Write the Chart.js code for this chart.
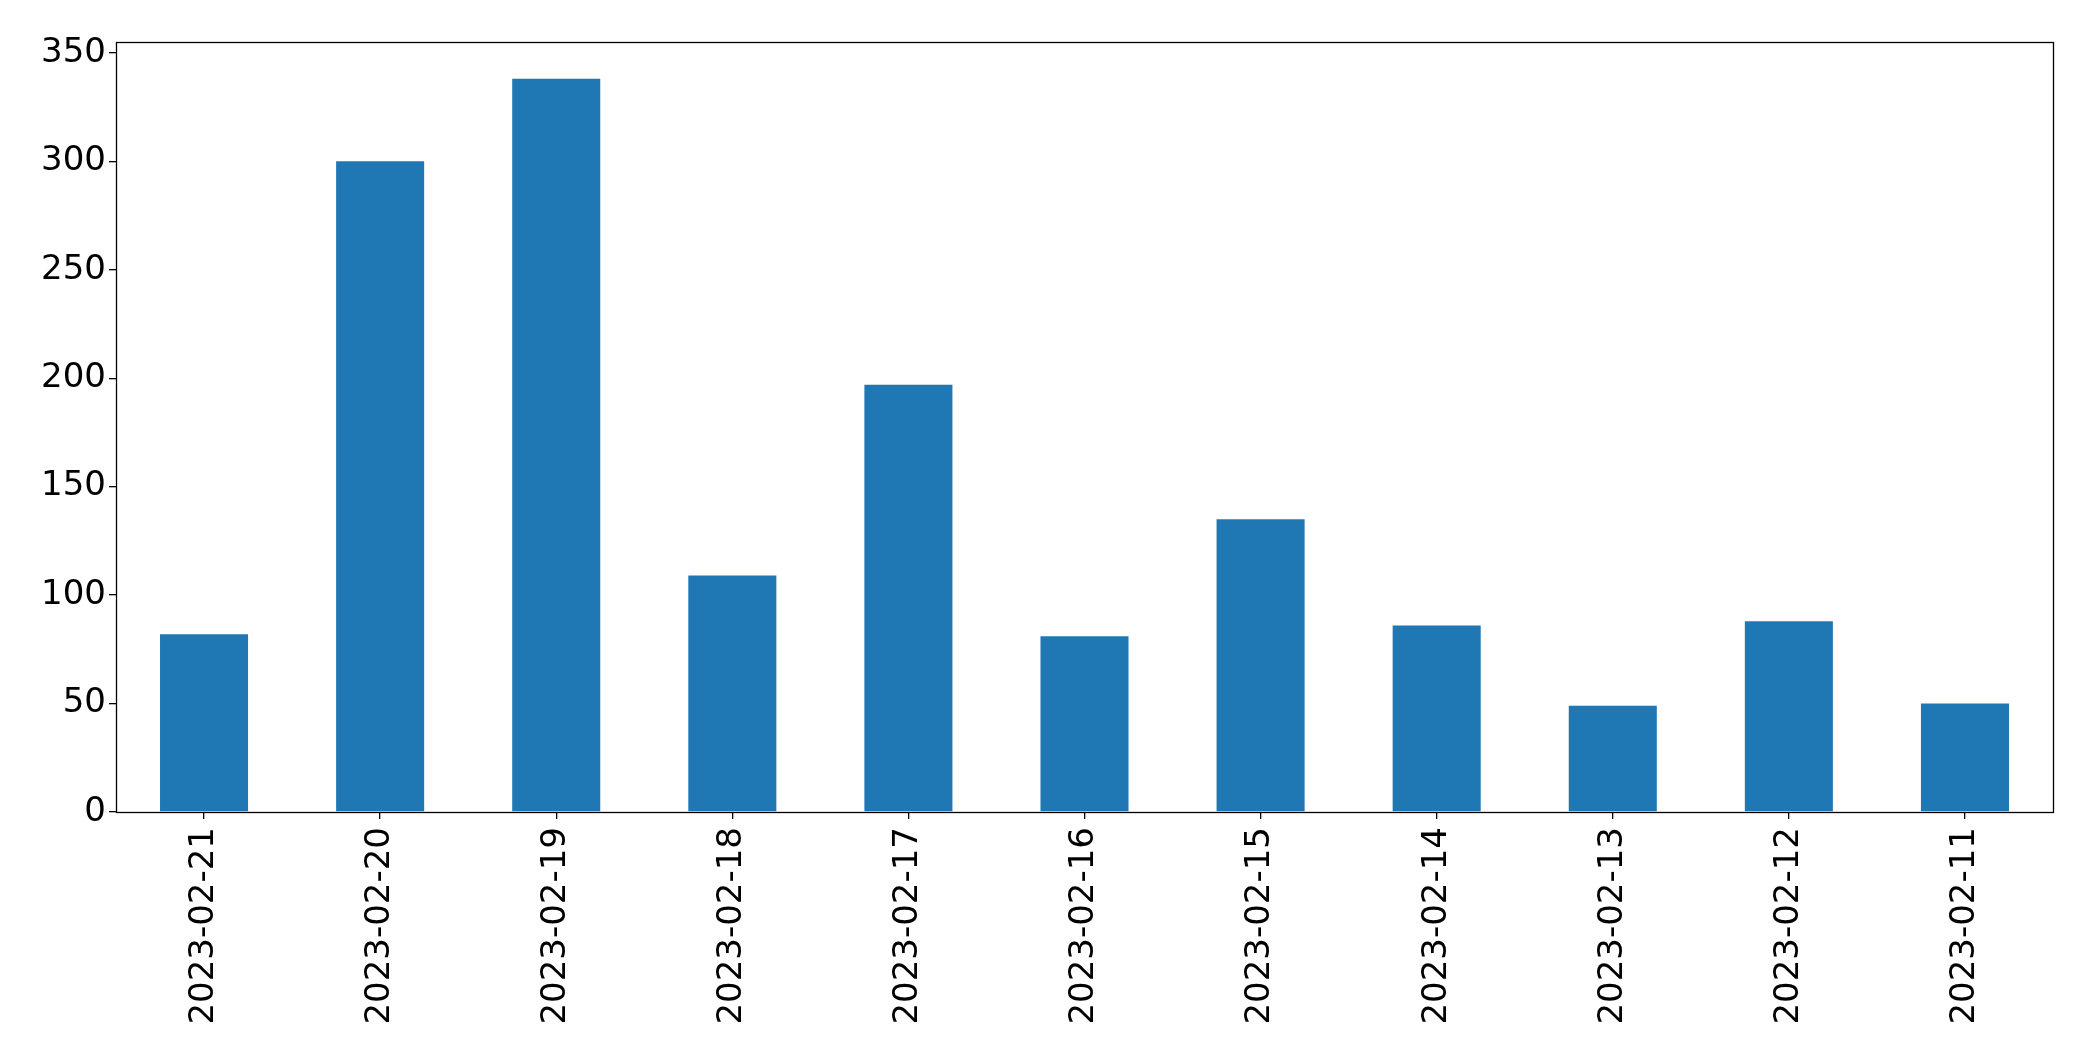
<!DOCTYPE html>
<html>
<head>
<meta charset="utf-8">
<script src="https://cdn.jsdelivr.net/npm/chart.js@4/dist/chart.umd.min.js"></script>
<style>
  body { margin: 0; background: #fff; }
  #myChart { display: block; }
</style>
</head>
<body>
<canvas id="myChart" width="2093" height="1064"></canvas>
<script>
  var dates = ['2023-02-21', '2023-02-20', '2023-02-19', '2023-02-18', '2023-02-17', '2023-02-16',
    '2023-02-15', '2023-02-14', '2023-02-13', '2023-02-12', '2023-02-11'];
  var counts = [82, 300, 338, 109, 197, 81, 135, 86, 49, 88, 50];
  var yTicks = [0, 50, 100, 150, 200, 250, 300, 350];

  // box round the plot area, like the matplotlib frame
  var frame = {
    id: 'frame',
    afterDraw: function (chart) {
      var a = chart.chartArea;
      var c = chart.ctx;
      c.save();
      c.strokeStyle = '#000';
      c.lineWidth = 1.3;
      c.strokeRect(Math.round(a.left) + 0.5, Math.round(a.top) + 0.5, Math.round(a.right - a.left), Math.round(a.bottom - a.top));
      c.restore();
    }
  };

  var ctx = document.getElementById('myChart').getContext('2d');
  var myChart = new Chart(ctx, {
    type: 'bar',
    data: {
      labels: dates,
      datasets: [{
        data: counts,
        backgroundColor: '#1f77b4',
        borderWidth: 0,
        barPercentage: 0.5,
        categoryPercentage: 1.0
      }]
    },
    options: {
      responsive: false,
      animation: false,
      layout: { padding: { top: 42, right: 40, left: 0, bottom: 0 } },
      plugins: { legend: { display: false }, tooltip: { enabled: false } },
      scales: {
        x: {
          grid: { display: true, offset: false, drawOnChartArea: false, color: '#000', lineWidth: 1.3, tickLength: 7 },
          border: { display: false },
          ticks: {
            color: '#000',
            font: { family: 'DejaVu Sans', size: 34 },
            maxRotation: 90,
            minRotation: 90,
            padding: 8,
            autoSkip: false
          },
          afterFit: function (scale) { scale.height = 252; }
        },
        y: {
          min: 0,
          max: 355,
          afterBuildTicks: function (scale) {
            scale.ticks = yTicks.map(function (v) { return { value: v }; });
          },
          grid: { display: true, drawOnChartArea: false, color: '#000', lineWidth: 1.3, tickLength: 7 },
          border: { display: false },
          ticks: {
            color: '#000',
            font: { family: 'DejaVu Sans', size: 34 },
            padding: 3
          },
          afterFit: function (scale) { scale.width = 116; }
        }
      }
    },
    plugins: [frame]
  });
</script>
</body>
</html>
